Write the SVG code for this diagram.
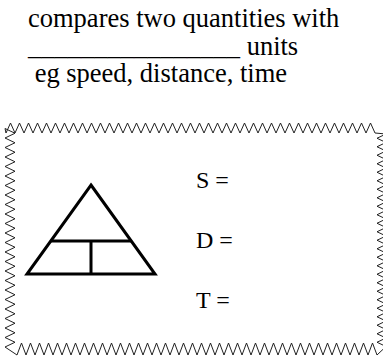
<svg xmlns="http://www.w3.org/2000/svg" width="383" height="358" viewBox="0 0 383 358">
<style>
text{font-family:'Liberation Serif','Times New Roman',Times,serif;fill:#000}
.top{font-size:26.5px}
.lbl{font-size:24px}
.zig{fill:none;stroke:#222;stroke-width:1;stroke-linejoin:miter}
.tri{fill:none;stroke:#000;stroke-width:3;stroke-linejoin:miter}
</style>
<rect width="383" height="358" fill="#fff"/>
<g id="heading">
<text class="top" x="28" y="27" font-family="Liberation Serif, serif">compares two quantities with</text>
<text class="top" x="28" y="55" font-family="Liberation Serif, serif" xml:space="preserve">________________ units</text>
<text class="top" x="28" y="82" font-family="Liberation Serif, serif" xml:space="preserve"> eg speed, distance, time</text>
</g>
<g id="frame">
<path class="zig" d="M6,133
l4.5,-10 4.5,10 4.5,-10 4.5,10 4.5,-10 4.5,10 4.5,-10 4.5,10 4.5,-10 4.5,10
4.5,-10 4.5,10 4.5,-10 4.5,10 4.5,-10 4.5,10 4.5,-10 4.5,10 4.5,-10 4.5,10
4.5,-10 4.5,10 4.5,-10 4.5,10 4.5,-10 4.5,10 4.5,-10 4.5,10 4.5,-10 4.5,10
4.5,-10 4.5,10 4.5,-10 4.5,10 4.5,-10 4.5,10 4.5,-10 4.5,10 4.5,-10 4.5,10
4.5,-10 4.5,10 4.5,-10 4.5,10 4.5,-10 4.5,10 4.5,-10 4.5,10 4.5,-10 4.5,10
4.5,-10 4.5,10 4.5,-10 4.5,10 4.5,-10 4.5,10 4.5,-10 4.5,10 4.5,-10 4.5,10
4.5,-10 4.5,10 4.5,-10 4.5,10 4.5,-10 4.5,10 4.5,-10 4.5,10 4.5,-10 4.5,10
4.5,-10 4.5,10 4.5,-10 4.5,10 4.5,-10 4.5,10 4.5,-10 4.5,10 4.5,-10 4.5,10
4.5,-10 4.5,10
L386,134
l-9,4.25 9,4.25 -9,4.25 9,4.25 -9,4.25 9,4.25 -9,4.25 9,4.25 -9,4.25 9,4.25
-9,4.25 9,4.25 -9,4.25 9,4.25 -9,4.25 9,4.25 -9,4.25 9,4.25 -9,4.25 9,4.25
-9,4.25 9,4.25 -9,4.25 9,4.25 -9,4.25 9,4.25 -9,4.25 9,4.25 -9,4.25 9,4.25
-9,4.25 9,4.25 -9,4.25 9,4.25 -9,4.25 9,4.25 -9,4.25 9,4.25 -9,4.25 9,4.25
-9,4.25 9,4.25 -9,4.25 9,4.25 -9,4.25 9,4.25 -9,4.25 9,4.25 -9,4.25 9,4.25
L377,355
l-4.5,-12 -4.5,12 -4.5,-12 -4.5,12 -4.5,-12 -4.5,12 -4.5,-12 -4.5,12 -4.5,-12 -4.5,12
-4.5,-12 -4.5,12 -4.5,-12 -4.5,12 -4.5,-12 -4.5,12 -4.5,-12 -4.5,12 -4.5,-12 -4.5,12
-4.5,-12 -4.5,12 -4.5,-12 -4.5,12 -4.5,-12 -4.5,12 -4.5,-12 -4.5,12 -4.5,-12 -4.5,12
-4.5,-12 -4.5,12 -4.5,-12 -4.5,12 -4.5,-12 -4.5,12 -4.5,-12 -4.5,12 -4.5,-12 -4.5,12
-4.5,-12 -4.5,12 -4.5,-12 -4.5,12 -4.5,-12 -4.5,12 -4.5,-12 -4.5,12 -4.5,-12 -4.5,12
-4.5,-12 -4.5,12 -4.5,-12 -4.5,12 -4.5,-12 -4.5,12 -4.5,-12 -4.5,12 -4.5,-12 -4.5,12
-4.5,-12 -4.5,12 -4.5,-12 -4.5,12 -4.5,-12 -4.5,12 -4.5,-12 -4.5,12 -4.5,-12 -4.5,12
-4.5,-12 -4.5,12 -4.5,-12 -4.5,12 -4.5,-12 -4.5,12 -4.5,-12 -4.5,12 -4.5,-12 -4.5,12
L5,347
l10,-4.75 -10,-4.75 10,-4.75 -10,-4.75 10,-4.75 -10,-4.75 10,-4.75 -10,-4.75 10,-4.75 -10,-4.75
10,-4.75 -10,-4.75 10,-4.75 -10,-4.75 10,-4.75 -10,-4.75 10,-4.75 -10,-4.75 10,-4.75 -10,-4.75
10,-4.75 -10,-4.75 10,-4.75 -10,-4.75 10,-4.75 -10,-4.75 10,-4.75 -10,-4.75 10,-4.75 -10,-4.75
10,-4.75 -10,-4.75 10,-4.75 -10,-4.75 10,-4.75 -10,-4.75 10,-4.75 -10,-4.75 10,-4.75 -10,-4.75
10,-4.75 -10,-4.75 10,-4.75 -10,-4.75 10,-4.75 -10,-4.75
Z"/>
</g>
<g id="triangle">
<path class="tri" d="M91,185 L155,274 L27,274 Z"/>
<path class="tri" d="M50.7,241 H131.3 M91,241 V274"/>
</g>
<g id="labels">
<text class="lbl" x="196" y="188" font-family="Liberation Serif, serif">S =</text>
<text class="lbl" x="196" y="248" font-family="Liberation Serif, serif">D =</text>
<text class="lbl" x="196" y="308" font-family="Liberation Serif, serif">T =</text>
</g>
</svg>
